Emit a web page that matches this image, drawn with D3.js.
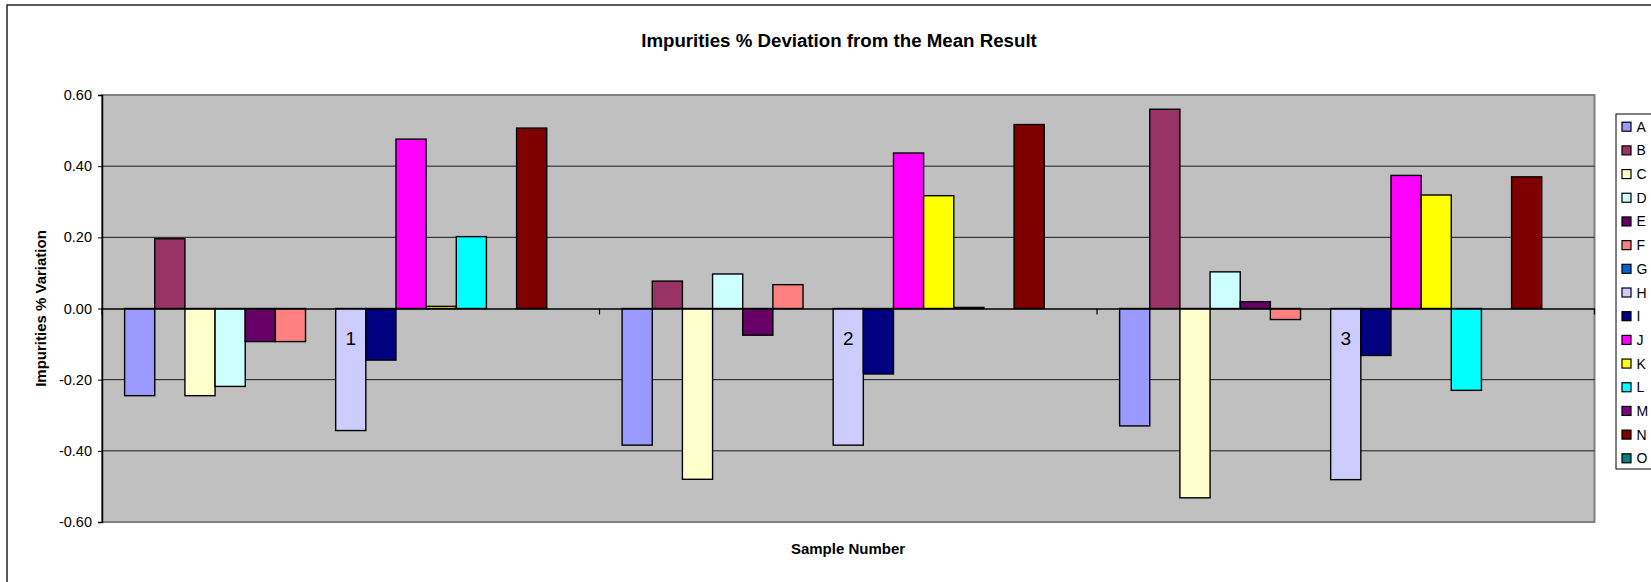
<!DOCTYPE html>
<html>
<head>
<meta charset="utf-8">
<script src="https://cdn.jsdelivr.net/npm/d3@7"></script>
<style>
  html, body { margin: 0; padding: 0; background: #ffffff; overflow: hidden; }
  svg { display: block; font-family: "Liberation Sans", Arial, sans-serif; }
</style>
</head>
<body>
<svg id="chart" width="1651" height="582"></svg>
<script>
// ---- data ----
const categories = ["1", "2", "3"];
const seriesNames = ["A","B","C","D","E","F","G","H","I","J","K","L","M","N","O"];
const seriesColors = ["#9999FF","#993366","#FFFFCC","#CCFFFF","#660066","#FF8080","#0066CC",
                      "#CCCCFF","#000080","#FF00FF","#FFFF00","#00FFFF","#800080","#800000","#008080"];
const valuesA = [-0.245, -0.384, -0.330];
const valuesB = [0.196, 0.077, 0.560];
const valuesC = [-0.245, -0.480, -0.532];
const valuesD = [-0.219, 0.097, 0.103];
const valuesE = [-0.093, -0.075, 0.019];
const valuesF = [-0.093, 0.067, -0.031];
const valuesG = [0, 0, 0];
const valuesH = [-0.343, -0.384, -0.481];
const valuesI = [-0.145, -0.184, -0.132];
const valuesJ = [0.476, 0.437, 0.374];
const valuesK = [0.006, 0.317, 0.319];
const valuesL = [0.202, 0.003, -0.230];
const valuesM = [0, 0, 0];
const valuesN = [0.507, 0.517, 0.370];
const valuesO = [0, 0, 0];
const seriesValues = [valuesA, valuesB, valuesC, valuesD, valuesE, valuesF, valuesG, valuesH,
                      valuesI, valuesJ, valuesK, valuesL, valuesM, valuesN, valuesO];
const yTickValues = [-0.6, -0.4, -0.2, 0, 0.2, 0.4, 0.6];
const yTickLabels = ["-0.60", "-0.40", "-0.20", "0.00", "0.20", "0.40", "0.60"];
const titleText = "Impurities % Deviation from the Mean Result";
const yTitleText = "Impurities % Variation";
const xTitleText = "Sample Number";

// ---- layout ----
const svg = d3.select("#chart");
const plot = { left: 102, right: 1594.5, top: 95, bottom: 522 };

const x = d3.scaleBand().domain(categories).range([plot.left, plot.right]).padding(0);
const xs = d3.scaleBand().domain(seriesNames).range([0, x.bandwidth()])
  .paddingInner(0).paddingOuter(0.75);
const y = d3.scaleLinear().domain([-0.6, 0.6]).range([plot.bottom, plot.top]);

// outer chart border
svg.append("rect")
  .attr("x", 7).attr("y", 5).attr("width", 1700).attr("height", 700)
  .attr("fill", "#fff").attr("stroke", "#222").attr("stroke-width", 1.5);

// plot area
svg.append("rect")
  .attr("x", plot.left).attr("y", plot.top)
  .attr("width", plot.right - plot.left).attr("height", plot.bottom - plot.top)
  .attr("fill", "#C0C0C0").attr("stroke", "#808080").attr("stroke-width", 2);

// gridlines
svg.append("g").selectAll("line")
  .data(yTickValues.filter(v => v !== 0 && Math.abs(v) < 0.59))
  .join("line")
  .attr("x1", plot.left).attr("x2", plot.right)
  .attr("y1", d => y(d)).attr("y2", d => y(d))
  .attr("stroke", "#1a1a1a").attr("stroke-width", 1);

// bars
const barData = [];
seriesNames.forEach((s, si) => {
  categories.forEach((c, ci) => {
    barData.push({ s, c, v: seriesValues[si][ci], color: seriesColors[si] });
  });
});
svg.append("g").selectAll("rect")
  .data(barData)
  .join("rect")
  .attr("x", d => x(d.c) + xs(d.s))
  .attr("y", d => y(Math.max(0, d.v)))
  .attr("width", xs.bandwidth())
  .attr("height", d => Math.abs(y(d.v) - y(0)))
  .attr("fill", d => d.color)
  .attr("stroke", "#000").attr("stroke-width", 1.4);

// category axis at zero
const xAxis = d3.axisBottom(x).tickSize(0).tickPadding(23);
const gx = svg.append("g").attr("transform", `translate(0,${y(0)})`).call(xAxis);
gx.select(".domain").attr("stroke", "#000").attr("stroke-width", 1.5);
gx.selectAll("text").attr("font-size", 19).attr("fill", "#000")
  .attr("font-family", "'Liberation Sans', Arial, sans-serif");
// category boundary ticks
const bounds = categories.map(c => x(c)).concat([x(categories[categories.length - 1]) + x.bandwidth()]);
svg.append("g").selectAll("line").data(bounds).join("line")
  .attr("x1", d => d).attr("x2", d => d)
  .attr("y1", y(0)).attr("y2", y(0) + 6)
  .attr("stroke", "#000").attr("stroke-width", 1.2);

// value axis
const yAxis = d3.axisLeft(y).tickValues(yTickValues)
  .tickFormat((d, i) => yTickLabels[i]).tickSize(4).tickPadding(6);
const gy = svg.append("g").attr("transform", `translate(${plot.left},0)`).call(yAxis);
gy.select(".domain").attr("stroke", "#000").attr("stroke-width", 1.5);
gy.selectAll(".tick line").attr("stroke", "#000");
gy.selectAll("text").attr("font-size", 14.5).attr("fill", "#000")
  .attr("font-family", "'Liberation Sans', Arial, sans-serif");

// titles
svg.append("text").attr("x", 839).attr("y", 46.5)
  .attr("text-anchor", "middle").attr("font-weight", "bold").attr("font-size", 18.7)
  .text(titleText);
svg.append("text").attr("x", 848).attr("y", 554.3)
  .attr("text-anchor", "middle").attr("font-weight", "bold").attr("font-size", 15)
  .text(xTitleText);
svg.append("text").attr("transform", `translate(46,${(plot.top + plot.bottom) / 2}) rotate(-90)`)
  .attr("text-anchor", "middle").attr("font-weight", "bold").attr("font-size", 15)
  .text(yTitleText);

// legend (box runs past the right edge, as in the reference)
const legend = svg.append("g");
legend.append("rect").attr("x", 1616).attr("y", 114).attr("width", 120).attr("height", 355)
  .attr("fill", "#fff").attr("stroke", "#000").attr("stroke-width", 1);
const rowY = d3.scalePoint().domain(seriesNames).range([126.7, 458.3]);
const items = legend.selectAll("g.item").data(seriesNames).join("g").attr("class", "item")
  .attr("transform", d => `translate(0,${rowY(d)})`);
items.append("rect").attr("x", 1622).attr("y", -4.5).attr("width", 9).attr("height", 9)
  .attr("fill", (d, i) => seriesColors[i]).attr("stroke", "#000").attr("stroke-width", 1.2);
items.append("text").attr("x", 1636.5).attr("y", 0).attr("dy", "0.36em")
  .attr("font-size", 14).attr("fill", "#000").text(d => d);
</script>
</body>
</html>
